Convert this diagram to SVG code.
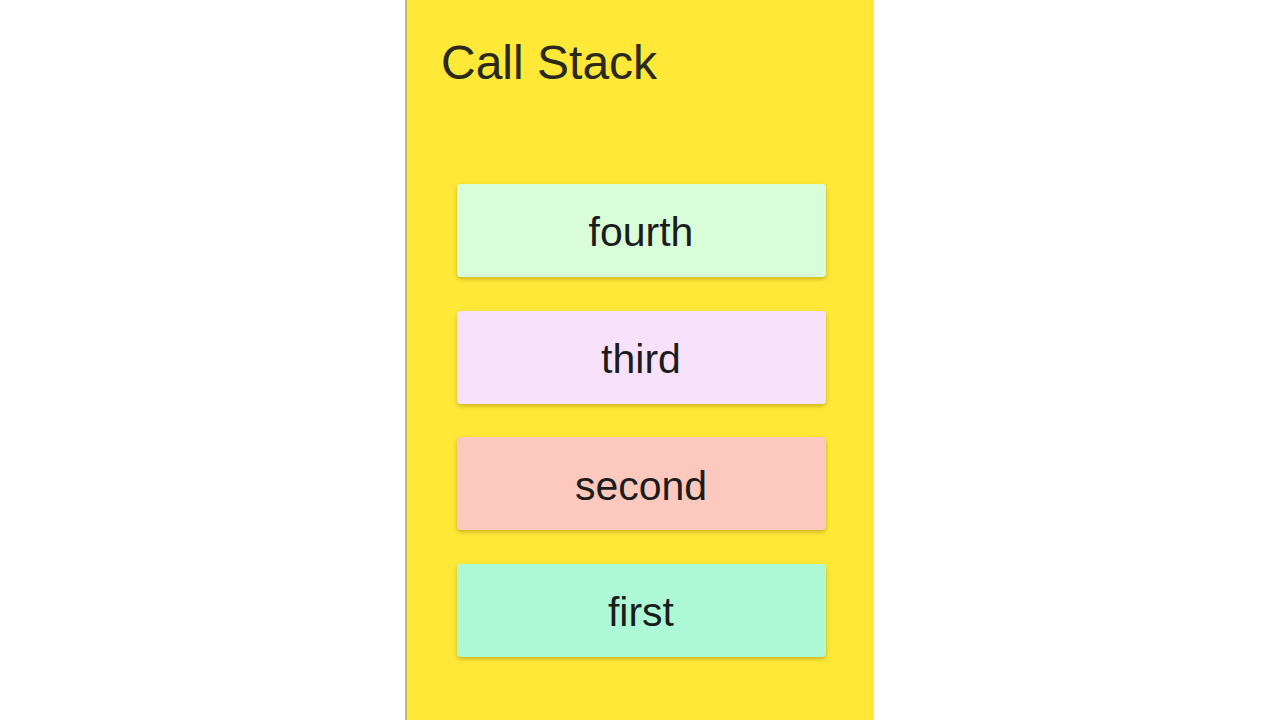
<svg xmlns="http://www.w3.org/2000/svg" width="1280" height="720" viewBox="0 0 1280 720">
<defs>
<filter id="sh" x="-10%" y="-20%" width="120%" height="150%">
<feDropShadow dx="0" dy="2" stdDeviation="2" flood-color="#8a7400" flood-opacity="0.45"/>
</filter>
<style>
.lbl{font-family:"Liberation Sans",Arial,sans-serif;font-size:41px;fill:#1c1c1c;text-anchor:middle}
.title{font-family:"Liberation Sans",Arial,sans-serif;font-size:48px;fill:#2a2a1a}
.box{filter:url(#sh)}
</style>
</defs>
<rect width="1280" height="720" fill="#ffffff"/>
<g id="panel">
<rect x="405" y="0" width="469" height="720" fill="#FFE838"/>
<rect x="405" y="0" width="2" height="720" fill="#c9b86a"/>
<text class="title" x="441" y="79">Call Stack</text>
</g>
<g id="fourth">
<rect class="box" x="457" y="184" width="369" height="93" rx="4" fill="#D9FDD8"/>
<text class="lbl" x="641" y="246">fourth</text>
</g>
<g id="third">
<rect class="box" x="457" y="311" width="369" height="93" rx="4" fill="#F8E1FB"/>
<text class="lbl" x="641" y="373">third</text>
</g>
<g id="second">
<rect class="box" x="457" y="437" width="369" height="93" rx="4" fill="#FDC9BE"/>
<text class="lbl" x="641" y="500">second</text>
</g>
<g id="first">
<rect class="box" x="457" y="564" width="369" height="93" rx="4" fill="#ADF9D6"/>
<text class="lbl" x="641" y="626">first</text>
</g>
<g id="connectors"/>
</svg>
